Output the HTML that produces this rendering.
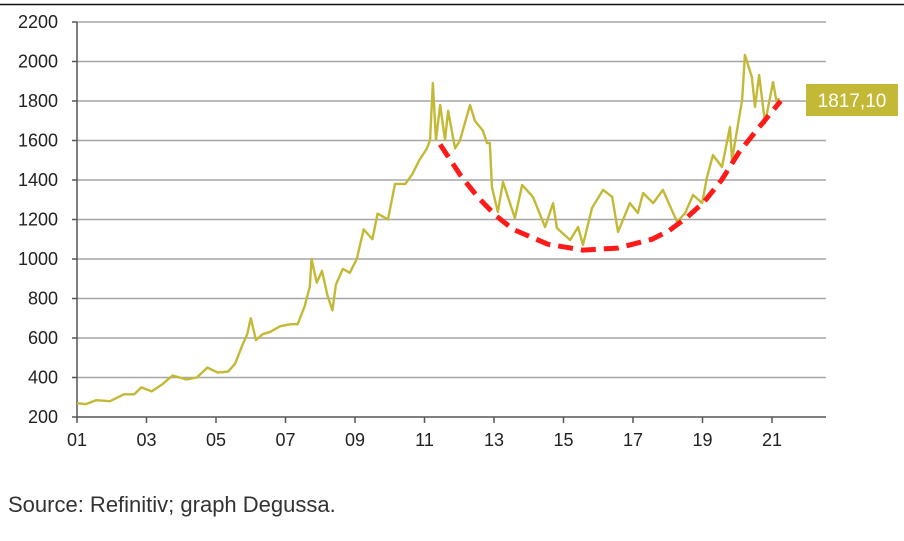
<!DOCTYPE html>
<html><head><meta charset="utf-8"><style>
body{margin:0;background:#fff;width:904px;height:536px;overflow:hidden;font-family:"Liberation Sans",sans-serif}
</style></head><body>
<svg width="904" height="536">
<line x1="0" y1="4.5" x2="904" y2="4.5" stroke="#111" stroke-width="1.5"/>
<g id="grid"></g><g id="axes"></g><g id="series"></g>
<rect x="806" y="84" width="92" height="32" fill="#c4b936"/>
<text x="852" y="107" fill="#fff" font-size="19" text-anchor="middle">1817,10</text>
<text x="8" y="512" font-size="22" fill="#333">Source: Refinitiv; graph Degussa.</text>
</svg>
<script>
const yTicks=[200,400,600,800,1000,1200,1400,1600,1800,2000,2200];
const xTickLabels=["01","03","05","07","09","11","13","15","17","19","21"];
const dates=[2001.45,2001.7,2002.0,2002.4,2002.8,2003.1,2003.3,2003.6,2003.9,2004.2,2004.4,2004.6,2004.9,2005.2,2005.5,2005.8,2006.0,2006.2,2006.35,2006.45,2006.6,2006.8,2007.0,2007.3,2007.6,2007.8,2008.0,2008.15,2008.2,2008.35,2008.5,2008.65,2008.8,2008.9,2009.1,2009.3,2009.5,2009.7,2009.95,2010.1,2010.4,2010.6,2010.9,2011.1,2011.3,2011.52,2011.61,2011.69,2011.78,2011.9,2012.04,2012.13,2012.33,2012.47,2012.76,2012.9,2013.13,2013.25,2013.33,2013.39,2013.56,2013.71,2014.05,2014.26,2014.57,2014.92,2015.15,2015.26,2015.64,2015.87,2016.01,2016.27,2016.59,2016.85,2017.02,2017.36,2017.59,2017.74,2018.03,2018.31,2018.72,2018.95,2019.18,2019.44,2019.58,2019.75,2020.01,2020.24,2020.3,2020.59,2020.67,2020.87,2020.96,2021.08,2021.25,2021.48,2021.59,2021.65];
const prices=[270,265,285,280,315,315,350,330,365,410,400,390,400,450,425,430,470,560,620,700,590,620,630,660,670,670,760,860,1000,880,940,820,740,870,950,930,1000,1150,1100,1230,1200,1380,1380,1430,1500,1560,1602,1891,1602,1780,1602,1750,1560,1600,1780,1700,1650,1587,1587,1365,1238,1390,1207,1375,1314,1162,1283,1157,1096,1162,1071,1258,1350,1314,1137,1283,1233,1334,1283,1350,1187,1233,1324,1283,1415,1526,1466,1668,1501,1805,2033,1922,1770,1932,1688,1896,1788,1815];
const trendDates=[2011.9,2012.5,2013.0,2013.5,2014.0,2015.0,2016.0,2017.0,2018.0,2018.5,2019.0,2019.5,2020.0,2020.5,2021.0,2021.7];
const trendValues=[1580,1420,1310,1220,1150,1075,1045,1055,1100,1145,1210,1290,1400,1540,1650,1800];
const NS="http://www.w3.org/2000/svg";
const X0=77,X1=826,Y0=417,Y1=22;
const xs=d=>X0+(d-2001.45)*34.75;
const ys=v=>Y0-(v-200)/2000*(Y0-Y1);
function mk(t,a,p){const e=document.createElementNS(NS,t);for(const k in a)e.setAttribute(k,a[k]);p.appendChild(e);return e;}
const grid=document.getElementById('grid'),axes=document.getElementById('axes'),ser=document.getElementById('series');
yTicks.forEach(v=>{
 const l=mk('line',{x1:X0,x2:X1,y1:ys(v),y2:ys(v),stroke:v===200?'#555':'#a6a6a6','stroke-width':1.5},grid);
 
 
 const tk=mk('line',{x1:X0-5,x2:X0,y1:ys(v),y2:ys(v),stroke:'#555','stroke-width':1.5},axes);
 
 
 const t=mk('text',{x:58,y:ys(v)+6,'text-anchor':'end','font-size':18,fill:'#222'},axes);t.textContent=v;
 
 
});
const ya=mk('line',{x1:X0,x2:X0,y1:Y1,y2:Y0,stroke:'#555','stroke-width':1.5},axes);


xTickLabels.forEach((s,i)=>{
 const x=xs(2001.45+i*2);
 const tk=mk('line',{x1:x,x2:x,y1:Y0,y2:Y0+6,stroke:'#555','stroke-width':1.5},axes);
 
 
 const t=mk('text',{x:x,y:446,'text-anchor':'middle','font-size':18,fill:'#222'},axes);t.textContent=s;
 
 
});
const p=mk('polyline',{points:dates.map((d,i)=>xs(d)+','+ys(prices[i])).join(' '),fill:'none',stroke:'#c4b936','stroke-width':2.4,'stroke-linejoin':'round'},ser);


const tr=mk('polyline',{points:trendDates.map((d,i)=>xs(d)+','+ys(trendValues[i])).join(' '),fill:'none',stroke:'#ff1a1a','stroke-width':5,'stroke-dasharray':'15 8'},ser);


</script>
</body></html>
